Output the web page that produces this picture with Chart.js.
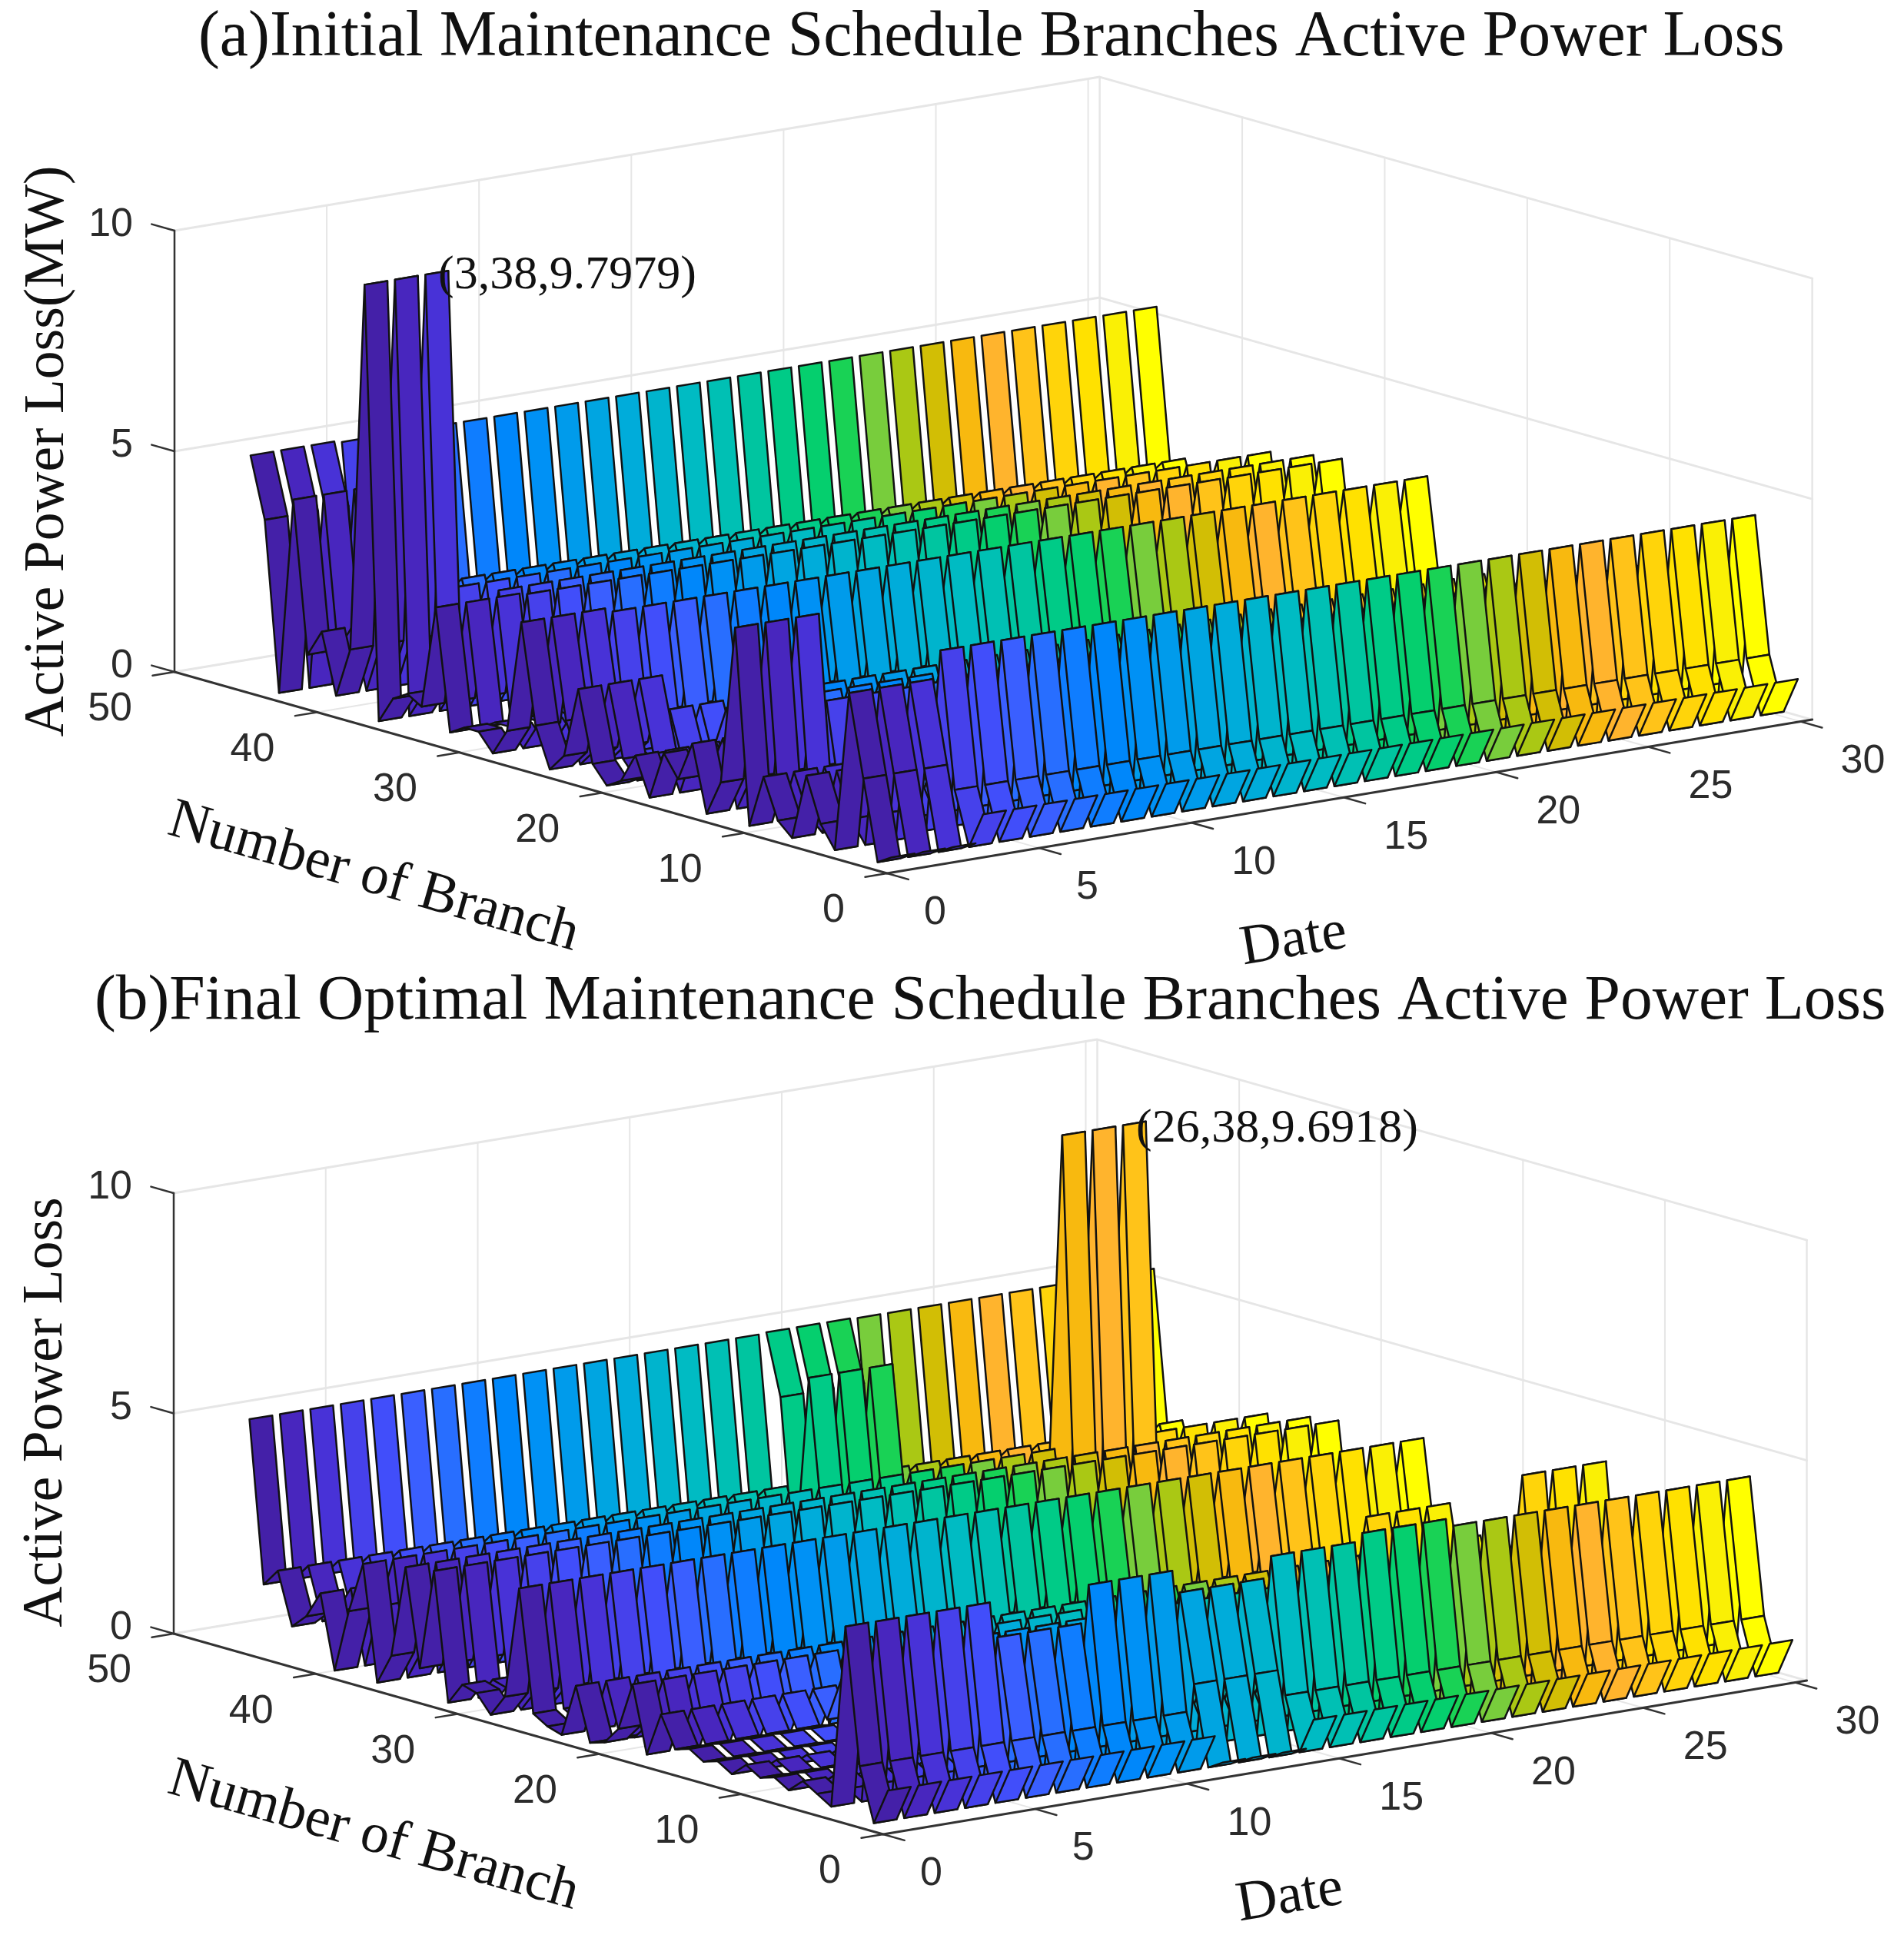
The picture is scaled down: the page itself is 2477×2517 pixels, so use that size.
<!DOCTYPE html>
<html lang="en">
<head>
<meta charset="UTF-8">
<title>Branches Active Power Loss</title>
<script src="https://cdn.jsdelivr.net/npm/chart.js"></script>
<style>
    html, body { margin: 0; padding: 0; background: #fff; }
    body { position: relative; width: 2477px; height: 2517px; overflow: hidden; }
    canvas { position: absolute; left: 0; }
    #chartA { top: 0; }
    #chartB { top: 1245px; }
</style>
</head>
<body>
<canvas id="chartA" width="2477" height="1300"></canvas>
<canvas id="chartB" width="2477" height="1272"></canvas>
<script>
// values, per branch 1..46
const dates = [1,2,3,4,5,6,7,8,9,10,11,12,13,14,15,16,17,18,19,20,21,22,23,24,25,26,27,28,29,30];
const branches = [1,2,3,4,5,6,7,8,9,10,11,12,13,14,15,16,17,18,19,20,21,22,23,24,25,26,27,28,29,30,31,32,33,34,35,36,37,38,39,40,41,42,43,44,45,46];
const baseLoss = [0.83,0,1.2,4.27,0.1,0.3,1.0,0,0.4,1.2,0.2,2.4,0.8,0.1,1.5,0.5,1.1,0.1,1.6,0.5,0.1,0,1.2,0,0.1,0.3,3.05,0.5,0,0.4,0.5,0,2.9,0.6,2.8,0.7,0,2.6,1.44,0,1.66,1.05,0.73,1.9,1.5,5.16];
const earlyLossA = [0.2,0,1.8,3.65,0,0.5,1.5,0,0.3,1.2,0,4.4,0.8,0,1.5,0.6,1.1,0,0.86,0.2,0,0.4,2.0,0.4,0,0.9,3.15,0.6,0,0.4,0.4,0.2,2.94,0.6,0.8,0.6,0,9.7979,1.44,0.3,1.66,1.05,4.47,0,3.83,5.2];
const lowFrontB = [4.28,0.1,0.3,0.5,0.2,0.4,0.3,0.5,0.2,0.4,0.3,0.5,0.4];
const dipFrontB = [0.2,0,1.8,3.79];
const midBackB = [4.42,0,3.8,5.18];

const dateTicks = [0,5,10,15,20,25,30];
const branchTicks = [0,10,20,30,40,50];
const lossTicks = [0,5,10];

// parula steps, one per date
const dateColors = ['#4420a8','#4826be','#4832d7','#4641eb','#414efa','#3a5fff','#286eff','#0f7dff','#0087fa','#0091f5','#009beb','#00a5e1','#00acda','#00b4cd','#00bbc3','#00c0b4','#00c5a0','#00cb87','#05cf6e','#19d255','#78cd3c','#aac814','#d2be05','#f8b90f','#ffb42d','#ffc319','#ffd40a','#ffe100','#faf005','#ffff00'];

function patch(table, days, firstBranch, values) {
    days.forEach(d => values.forEach((v, i) => { table[d - 1][firstBranch - 1 + i] = v; }));
}

const lossA = dates.map(() => baseLoss.slice());
patch(lossA, [1,2,3], 1, earlyLossA);

const lossB = dates.map(() => baseLoss.slice());
patch(lossB, [1,2,3,4,5], 4, lowFrontB);
patch(lossB, [6,7,8], 4, [3.46]);
patch(lossB, [9,10,11], 4, [4.31]);
patch(lossB, [12,13,14], 1, dipFrontB);
patch(lossB, [18,19,20], 4, [4.45]);
patch(lossB, [18,19,20], 43, midBackB);
patch(lossB, [24,25,26], 37, [0,9.6918,1.44]);
patch(lossB, [27,28,29], 12, [4.0]);
patch(lossB, [27,28,29], 23, [2.05]);

const ribbonWidth = 0.75;
const dateLimit = 30.38;
const branchLimit = 50;
const lossLimit = 10;
const serif = '"Liberation Serif", "Times New Roman", serif';
const sans = '"Liberation Sans", Arial, sans-serif';

function panel(view) {
    // orthographic view of the MATLAB axes box
    const at = (d, b, z) => ({
        x: view.ox + view.dx * d + view.bx * b,
        y: view.oy + view.dy * d + view.by * b + view.zy * z
    });
    const edge = (pts, color, w) => ({
        data: pts, showLine: true, fill: false, pointRadius: 0,
        borderColor: color, borderWidth: w, borderJoinStyle: 'round', borderCapStyle: 'round'
    });

    const quads = [];
    view.loss.forEach((row, di) => {
        const d = dates[di];
        for (let i = 0; i < branches.length - 1; i++) {
            const b = branches[i], b2 = branches[i + 1];
            const l = d - ribbonWidth / 2, r = d + ribbonWidth / 2;
            const a1 = at(l, b, row[i]), a2 = at(r, b, row[i]);
            const a3 = at(r, b2, row[i + 1]), a4 = at(l, b2, row[i + 1]);
            quads.push({
                depth: d * -view.dy + (b + 0.5) * -view.by,
                ds: Object.assign(edge([a1, a2, a3, a4, a1], '#111', 2.5), { faceColor: dateColors[di] })
            });
        }
    });
    quads.sort((p, q) => p.depth - q.depth);

    const gridColor = '#e6e6e6', axisColor = '#333';
    const back = [];
    dateTicks.forEach(d => {
        back.push(edge([at(d, 0, 0), at(d, branchLimit, 0), at(d, branchLimit, lossLimit)], gridColor, 2));
    });
    branchTicks.forEach(b => {
        back.push(edge([at(0, b, 0), at(dateLimit, b, 0), at(dateLimit, b, lossLimit)], gridColor, 2));
    });
    lossTicks.forEach(z => {
        back.push(edge([at(0, branchLimit, z), at(dateLimit, branchLimit, z), at(dateLimit, 0, z)], gridColor, 3));
    });
    back.push(edge([at(dateLimit, branchLimit, 0), at(dateLimit, branchLimit, lossLimit)], gridColor, 2));
    back.push(edge([at(dateLimit, 0, 0), at(dateLimit, 0, lossLimit)], gridColor, 2));

    const axes = [];
    axes.push(edge([at(0, branchLimit, 0), at(0, branchLimit, lossLimit)], axisColor, 2.5));
    axes.push(edge([at(0, branchLimit, 0), at(0, 0, 0), at(dateLimit, 0, 0)], axisColor, 3));
    lossTicks.forEach(z => axes.push(edge([at(0, branchLimit, z), at(0, branchLimit + 1.6, z)], axisColor, 2.5)));
    branchTicks.forEach(b => axes.push(edge([at(0, b, 0), at(-0.72, b, 0)], axisColor, 2.5)));
    dateTicks.forEach(d => axes.push(edge([at(d, 0, 0), at(d, -1.5, 0)], axisColor, 2.5)));

    const texts = [];
    const tickFont = '52px ' + sans, tickColor = '#2b2b2b';
    lossTicks.forEach(z => {
        const p = at(0, branchLimit, z);
        texts.push({ t: String(z), x: p.x - 54, y: p.y - 7, font: tickFont, color: tickColor, align: 'right' });
    });
    branchTicks.forEach(b => {
        const p = at(0, b, 0);
        texts.push({ t: String(b), x: p.x - 55, y: p.y + 49, font: tickFont, color: tickColor, align: 'right' });
    });
    dateTicks.forEach(d => {
        const p = at(d, 0, 0);
        texts.push({ t: String(d), x: p.x + (d < 10 ? 48 : 52), y: p.y + 52, font: tickFont, color: tickColor, align: 'left' });
    });
    view.labels.forEach(l => texts.push(l));

    return new Chart(document.getElementById(view.canvas), {
        type: 'scatter',
        data: { datasets: quads.map(q => q.ds).concat(axes, back) },
        options: {
            responsive: false, animation: false, parsing: false, events: [],
            layout: { padding: 0 },
            plugins: { legend: { display: false }, tooltip: { enabled: false }, title: { display: false } },
            scales: {
                x: { type: 'linear', min: 0, max: 2477, display: false },
                y: { type: 'linear', min: view.top, max: view.bottom, reverse: true, display: false }
            }
        },
        plugins: [{
            id: 'ribbonFaces',
            beforeDatasetDraw(chart, args) {
                const ds = chart.data.datasets[args.index];
                if (!ds.faceColor) return;
                const pts = args.meta.data, ctx = chart.ctx;
                ctx.save();
                ctx.fillStyle = ds.faceColor;
                ctx.beginPath();
                pts.forEach((p, i) => i ? ctx.lineTo(p.x, p.y) : ctx.moveTo(p.x, p.y));
                ctx.closePath();
                ctx.fill();
                ctx.restore();
            }
        }, {
            id: 'axisTexts',
            afterDatasetsDraw(chart) {
                const ctx = chart.ctx;
                texts.forEach(l => {
                    ctx.save();
                    ctx.translate(l.x, l.y - view.top);
                    ctx.rotate((l.rot || 0) * Math.PI / 180);
                    ctx.font = l.font;
                    ctx.fillStyle = l.color || '#111';
                    ctx.textAlign = l.align || 'center';
                    ctx.textBaseline = l.base || 'middle';
                    ctx.fillText(l.t, 0, 0);
                    ctx.restore();
                });
            }
        }]
    });
}

panel({
    canvas: 'chartA', top: 0, bottom: 1300, loss: lossA,
    ox: 1154, oy: 1136, dx: 39.62, dy: -6.58, bx: -18.54, by: -5.24, zy: -57.4,
    labels: [
        { t: '(a)Initial Maintenance Schedule Branches Active Power Loss', x: 258, y: 72, font: '83.7px ' + serif, align: 'left', base: 'alphabetic' },
        { t: 'Active Power Loss(MW)', x: 63, y: 587, rot: -90, font: '73.5px ' + serif },
        { t: 'Number of Branch', x: 486, y: 1142, rot: 16, font: '73.5px ' + serif },
        { t: 'Date', x: 1683, y: 1224, rot: -9.5, font: '73.5px ' + serif },
        { t: '(3,38,9.7979)', x: 570, y: 359, font: '62px ' + serif, align: 'left' }
    ]
});

panel({
    canvas: 'chartB', top: 1245, bottom: 2517, loss: lossB,
    ox: 1149, oy: 2386, dx: 39.55, dy: -6.58, bx: -18.46, by: -5.22, zy: -57.3,
    labels: [
        { t: '(b)Final Optimal Maintenance Schedule Branches Active Power Loss', x: 123, y: 1325, font: '83.5px ' + serif, align: 'left', base: 'alphabetic' },
        { t: 'Active Power Loss', x: 61, y: 1837, rot: -90, font: '73.5px ' + serif },
        { t: 'Number of Branch', x: 486, y: 2389, rot: 16, font: '73.5px ' + serif },
        { t: 'Date', x: 1678, y: 2468, rot: -9.5, font: '73.5px ' + serif },
        { t: '(26,38,9.6918)', x: 1478, y: 1469, font: '62px ' + serif, align: 'left' }
    ]
});
</script>
</body>
</html>
